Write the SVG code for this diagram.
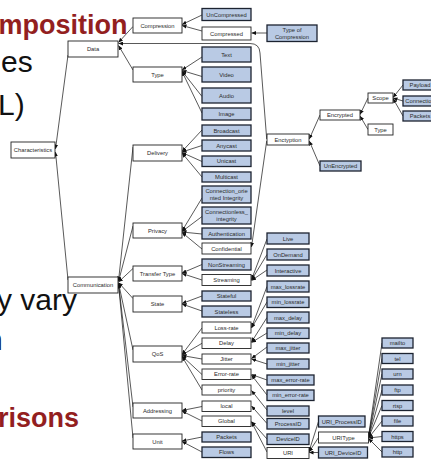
<svg xmlns="http://www.w3.org/2000/svg" width="431" height="460" viewBox="0 0 431 460">
<style>
  .bg { font-family: "Liberation Sans", Arial, sans-serif; font-size: 30px; fill: #111; }
  .hd { font-family: "Liberation Sans", Arial, sans-serif; font-size: 27px; font-weight: bold; fill: #931f1f; }
  .box { fill: #fff; stroke: #222; stroke-width: 0.9; }
  .leaf { fill: #b9cae4; stroke: #1c2330; stroke-width: 1.3; }
  .lbl { font-family: "Liberation Sans", Arial, sans-serif; font-size: 5.8px; fill: #2a2a2a; text-anchor: middle; }
  .edge path { fill: none; stroke: #111; stroke-width: 0.7; marker-end: url(#arr); }
</style>
<defs>
  <marker id="arr" markerUnits="userSpaceOnUse" markerWidth="5" markerHeight="4" refX="4.5" refY="2" orient="auto">
    <path d="M0,0 L4.5,2 L0,4 z" fill="#111"/>
  </marker>
</defs>
<rect width="431" height="460" fill="#fff"/>

<!-- slide text behind the tree -->
<g id="slide-text">
  <text class="hd" x="-1.5" y="34">mposition</text>
  <text class="bg" x="1" y="72">es</text>
  <text class="bg" x="-2" y="115">L)</text>
  <text class="bg" x="-3" y="310">y vary</text>
  <text class="bg" x="-14" y="350">n</text>
  <text class="hd" x="-2" y="427">risons</text>
</g>

<!-- connectors: child to parent, arrowhead on the parent -->
<g id="connectors" class="edge">
  <path d="M68,55 L55.5,149"/>
  <path d="M68,280 L55.5,152"/>
  <path d="M133,26.5 L118.5,42.5"/>
  <path d="M266.7,139 L260,53 Q259.5,43.5 250,43.5 L118.5,43.5"/>
  <path d="M133,70 L118.5,45.5"/>
  <path d="M202,15 L182,24.5"/>
  <path d="M202,31 L182,25.5"/>
  <path d="M267,33 L251.5,33"/>
  <path d="M202,57 L182,70"/>
  <path d="M202,76.5 L182,70.5"/>
  <path d="M202,96.5 L182,71"/>
  <path d="M202,113 L182,71.5"/>
  <path d="M202,130 L182,151.5"/>
  <path d="M202,145.5 L182,152"/>
  <path d="M202,161.5 L182,152.5"/>
  <path d="M202,177 L182,153"/>
  <path d="M202,198 L182,231"/>
  <path d="M202,216.5 L182,231.5"/>
  <path d="M202,234 L182,232"/>
  <path d="M202,249 L182,232.5"/>
  <path d="M266.7,141 L251.5,247"/>
  <path d="M202,264.5 L182,273"/>
  <path d="M202,280 L182,273.5"/>
  <path d="M202,296 L182,303.5"/>
  <path d="M202,311 L182,304"/>
  <path d="M202,328 L182,354.5"/>
  <path d="M202,343.3 L182,355"/>
  <path d="M202,359 L182,355.5"/>
  <path d="M202,374.5 L182,356"/>
  <path d="M202,390 L182,356.5"/>
  <path d="M202,406.5 L182,410.5"/>
  <path d="M202,421 L182,411"/>
  <path d="M202,437 L182,441"/>
  <path d="M202,452 L182,441.5"/>
  <path d="M133,147 L118.5,281"/>
  <path d="M133,226 L118.5,281.5"/>
  <path d="M133,268.5 L118.5,282"/>
  <path d="M133,298.5 L118.5,282.5"/>
  <path d="M133,350 L118.5,283"/>
  <path d="M133,407 L118.5,283.5"/>
  <path d="M133,438 L118.5,284"/>
  <path d="M320,115 L309.3,139"/>
  <path d="M320,166 L309.3,141"/>
  <path d="M368,98 L360,114.5"/>
  <path d="M368,129.5 L360,116"/>
  <path d="M403,85 L393,97.5"/>
  <path d="M403,101 L393,98"/>
  <path d="M403,116 L393,98.5"/>
  <path d="M267,239 L251.5,279.5"/>
  <path d="M267,254.5 L251.5,280"/>
  <path d="M267,270 L251.5,280.5"/>
  <path d="M267,286.5 L251.5,327.5"/>
  <path d="M267,302 L251.5,328"/>
  <path d="M267,317.5 L251.5,342"/>
  <path d="M267,333 L251.5,342.5"/>
  <path d="M267,347 L251.5,358.5"/>
  <path d="M267,364 L251.5,359"/>
  <path d="M267,380 L251.5,374.5"/>
  <path d="M267,395 L251.5,375"/>
  <path d="M267,410 L251.5,390.5"/>
  <path d="M267,423.5 L251.5,406"/>
  <path d="M267,439 L251.5,421.5"/>
  <path d="M267,452 L251.5,422"/>
  <path d="M318.5,421.5 L309,451.5"/>
  <path d="M318.5,437.5 L309,452"/>
  <path d="M318.5,452.5 L309,452.5"/>
  <path d="M382,343 L368.5,436.5"/>
  <path d="M382,358.5 L368.5,437"/>
  <path d="M382,374 L368.5,437"/>
  <path d="M382,390 L368.5,437.5"/>
  <path d="M382,405.5 L368.5,437.5"/>
  <path d="M382,421 L368.5,438"/>
  <path d="M382,436.5 L368.5,438"/>
  <path d="M382,452 L368.5,438.5"/>
</g>

<!-- root -->
<g id="n-characteristics"><rect class="box" x="11" y="142" width="44" height="16"/><text class="lbl" x="33" y="152">Characteristics</text></g>

<!-- second level -->
<g id="n-data"><rect class="box" x="68" y="41" width="50" height="16"/><text class="lbl" x="93" y="51">Data</text></g>
<g id="n-communication"><rect class="box" x="68" y="277" width="50" height="16"/><text class="lbl" x="93" y="287">Communication</text></g>

<!-- third level -->
<g id="n-compression"><rect class="box" x="133" y="18" width="49" height="15"/><text class="lbl" x="157.5" y="27.5">Compression</text></g>
<g id="n-type"><rect class="box" x="133" y="67" width="49" height="15"/><text class="lbl" x="157.5" y="76.5">Type</text></g>
<g id="n-delivery"><rect class="box" x="133" y="145" width="49" height="16"/><text class="lbl" x="157.5" y="155">Delivery</text></g>
<g id="n-privacy"><rect class="box" x="133" y="223" width="49" height="15"/><text class="lbl" x="157.5" y="232.5">Privacy</text></g>
<g id="n-transfer-type"><rect class="box" x="133" y="266" width="49" height="15"/><text class="lbl" x="157.5" y="275.5">Transfer Type</text></g>
<g id="n-state"><rect class="box" x="133" y="296" width="49" height="16"/><text class="lbl" x="157.5" y="306">State</text></g>
<g id="n-qos"><rect class="box" x="133" y="346" width="49" height="16"/><text class="lbl" x="157.5" y="356">QoS</text></g>
<g id="n-addressing"><rect class="box" x="133" y="403" width="49" height="15"/><text class="lbl" x="157.5" y="412.5">Addressing</text></g>
<g id="n-unit"><rect class="box" x="133" y="434" width="49" height="15"/><text class="lbl" x="157.5" y="443.5">Unit</text></g>

<!-- fourth level -->
<g id="n-uncompressed"><rect class="leaf" x="202" y="8.5" width="49" height="12"/><text class="lbl" x="226.5" y="16.5">UnCompressed</text></g>
<g id="n-compressed"><rect class="box" x="202" y="27" width="49" height="13"/><text class="lbl" x="226.5" y="35.5">Compressed</text></g>
<g id="n-text"><rect class="leaf" x="202" y="47" width="49" height="15"/><text class="lbl" x="226.5" y="56.5">Text</text></g>
<g id="n-video"><rect class="leaf" x="202" y="67" width="49" height="15"/><text class="lbl" x="226.5" y="76.5">Video</text></g>
<g id="n-audio"><rect class="leaf" x="202" y="88" width="49" height="15"/><text class="lbl" x="226.5" y="97.5">Audio</text></g>
<g id="n-image"><rect class="leaf" x="202" y="108" width="49" height="12"/><text class="lbl" x="226.5" y="116">Image</text></g>
<g id="n-broadcast"><rect class="leaf" x="202" y="125" width="49" height="11"/><text class="lbl" x="226.5" y="132.5">Broadcast</text></g>
<g id="n-anycast"><rect class="leaf" x="202" y="140" width="49" height="11"/><text class="lbl" x="226.5" y="147.5">Anycast</text></g>
<g id="n-unicast"><rect class="leaf" x="202" y="156" width="49" height="10.5"/><text class="lbl" x="226.5" y="163.3">Unicast</text></g>
<g id="n-multicast"><rect class="leaf" x="202" y="172" width="49" height="10"/><text class="lbl" x="226.5" y="179">Multicast</text></g>
<g id="n-conn-oriented"><rect class="leaf" x="202" y="186" width="49" height="17"/><text class="lbl" x="226.5" y="193">Connection_orie</text><text class="lbl" x="226.5" y="200">nted Integrity</text></g>
<g id="n-connectionless"><rect class="leaf" x="202" y="207" width="49" height="17"/><text class="lbl" x="226.5" y="214">Connectionless_</text><text class="lbl" x="226.5" y="221">integrity</text></g>
<g id="n-authentication"><rect class="leaf" x="202" y="228" width="49" height="11"/><text class="lbl" x="226.5" y="235.5">Authentication</text></g>
<g id="n-confidential"><rect class="box" x="202" y="243" width="49" height="11"/><text class="lbl" x="226.5" y="250.5">Confidential</text></g>
<g id="n-nonstreaming"><rect class="leaf" x="202" y="259" width="49" height="11"/><text class="lbl" x="226.5" y="266.5">NonStreaming</text></g>
<g id="n-streaming"><rect class="box" x="202" y="274.5" width="49" height="11"/><text class="lbl" x="226.5" y="282">Streaming</text></g>
<g id="n-stateful"><rect class="leaf" x="202" y="291" width="49" height="10"/><text class="lbl" x="226.5" y="298">Stateful</text></g>
<g id="n-stateless"><rect class="leaf" x="202" y="306" width="49" height="11"/><text class="lbl" x="226.5" y="313.5">Stateless</text></g>
<g id="n-loss-rate"><rect class="box" x="202" y="322" width="49" height="11"/><text class="lbl" x="226.5" y="329.5">Loss-rate</text></g>
<g id="n-delay"><rect class="box" x="202" y="338" width="49" height="10.5"/><text class="lbl" x="226.5" y="345.3">Delay</text></g>
<g id="n-jitter"><rect class="box" x="202" y="354" width="49" height="10"/><text class="lbl" x="226.5" y="361">Jitter</text></g>
<g id="n-error-rate"><rect class="box" x="202" y="369" width="49" height="10.5"/><text class="lbl" x="226.5" y="376.3">Error-rate</text></g>
<g id="n-priority"><rect class="box" x="202" y="385" width="49" height="10"/><text class="lbl" x="226.5" y="392">priority</text></g>
<g id="n-local"><rect class="box" x="202" y="401" width="49" height="10.5"/><text class="lbl" x="226.5" y="408.3">local</text></g>
<g id="n-global"><rect class="box" x="202" y="416" width="49" height="10.5"/><text class="lbl" x="226.5" y="423.3">Global</text></g>
<g id="n-packets"><rect class="leaf" x="202" y="432" width="49" height="10"/><text class="lbl" x="226.5" y="439">Packets</text></g>
<g id="n-flows"><rect class="leaf" x="202" y="447" width="49" height="10.5"/><text class="lbl" x="226.5" y="454.3">Flows</text></g>

<!-- fifth level -->
<g id="n-type-of-compression"><rect class="leaf" x="267" y="25" width="50" height="16.5"/><text class="lbl" x="292" y="31.5">Type of</text><text class="lbl" x="292" y="38.5">Compression</text></g>
<g id="n-enctyption"><rect class="box" x="267" y="134" width="42" height="11"/><text class="lbl" x="288" y="141.5">Enctyption</text></g>
<g id="n-live"><rect class="leaf" x="267" y="233" width="42" height="11"/><text class="lbl" x="288" y="240.5">Live</text></g>
<g id="n-ondemand"><rect class="leaf" x="267" y="249" width="42" height="11"/><text class="lbl" x="288" y="256.5">OnDemand</text></g>
<g id="n-interactive"><rect class="leaf" x="267" y="265" width="42" height="11"/><text class="lbl" x="288" y="272.5">Interactive</text></g>
<g id="n-max-lossrate"><rect class="leaf" x="267" y="281" width="42" height="11"/><text class="lbl" x="288" y="288.5">max_lossrate</text></g>
<g id="n-min-lossrate"><rect class="leaf" x="267" y="297" width="42" height="10.5"/><text class="lbl" x="288" y="304.3">min_lossrate</text></g>
<g id="n-max-delay"><rect class="leaf" x="267" y="312" width="42" height="11"/><text class="lbl" x="288" y="319.5">max_delay</text></g>
<g id="n-min-delay"><rect class="leaf" x="267" y="328" width="42" height="10.5"/><text class="lbl" x="288" y="335.3">min_delay</text></g>
<g id="n-max-jitter"><rect class="leaf" x="267" y="343" width="42" height="10"/><text class="lbl" x="288" y="350">max_jitter</text></g>
<g id="n-min-jitter"><rect class="leaf" x="267" y="359" width="42" height="10"/><text class="lbl" x="288" y="366">min_jitter</text></g>
<g id="n-max-error-rate"><rect class="leaf" x="267" y="375" width="47" height="10"/><text class="lbl" x="290.5" y="382">max_error-rate</text></g>
<g id="n-min-error-rate"><rect class="leaf" x="267" y="390" width="47" height="10.5"/><text class="lbl" x="290.5" y="397.3">min_error-rate</text></g>
<g id="n-level"><rect class="leaf" x="267" y="406" width="42" height="10"/><text class="lbl" x="288" y="413">level</text></g>
<g id="n-processid"><rect class="leaf" x="267" y="418.5" width="42" height="10.5"/><text class="lbl" x="288" y="425.8">ProcessID</text></g>
<g id="n-deviceid"><rect class="leaf" x="267" y="434" width="42" height="10.5"/><text class="lbl" x="288" y="441.3">DeviceID</text></g>
<g id="n-uri"><rect class="box" x="267" y="447.5" width="42" height="11"/><text class="lbl" x="288" y="455">URI</text></g>

<!-- encryption branch -->
<g id="n-encrypted"><rect class="box" x="320" y="110" width="40" height="10"/><text class="lbl" x="340" y="117">Encrypted</text></g>
<g id="n-unencrypted"><rect class="leaf" x="320" y="161" width="41" height="10"/><text class="lbl" x="340.5" y="168">UnEncrypted</text></g>
<g id="n-scope"><rect class="box" x="368" y="93" width="25" height="10"/><text class="lbl" x="380.5" y="100">Scope</text></g>
<g id="n-enc-type"><rect class="box" x="368" y="124" width="25" height="11"/><text class="lbl" x="380.5" y="131.5">Type</text></g>
<g id="n-payload"><rect class="leaf" x="403" y="80" width="34" height="10"/><text class="lbl" x="420" y="87">Payload</text></g>
<g id="n-connection"><rect class="leaf" x="403" y="96" width="34" height="10"/><text class="lbl" x="420" y="103">Connection</text></g>
<g id="n-packet"><rect class="leaf" x="403" y="111" width="34" height="10"/><text class="lbl" x="420" y="118">Packets</text></g>

<!-- URI branch -->
<g id="n-uri-processid"><rect class="leaf" x="318.5" y="416" width="46.5" height="11"/><text class="lbl" x="341.75" y="423.5">URI_ProcessID</text></g>
<g id="n-uritype"><rect class="box" x="318.5" y="432" width="50" height="11"/><text class="lbl" x="343.5" y="439.5">URIType</text></g>
<g id="n-uri-deviceid"><rect class="leaf" x="318.5" y="447" width="49" height="11"/><text class="lbl" x="343" y="454.5">URI_DeviceID</text></g>
<g id="n-mailto"><rect class="leaf" x="382" y="338" width="31" height="10"/><text class="lbl" x="397.5" y="345">mailto</text></g>
<g id="n-tel"><rect class="leaf" x="382" y="353.5" width="31" height="10"/><text class="lbl" x="397.5" y="360.5">tel</text></g>
<g id="n-urn"><rect class="leaf" x="382" y="369" width="31" height="10"/><text class="lbl" x="397.5" y="376">urn</text></g>
<g id="n-ftp"><rect class="leaf" x="382" y="385" width="31" height="10"/><text class="lbl" x="397.5" y="392">ftp</text></g>
<g id="n-rtsp"><rect class="leaf" x="382" y="400.5" width="31" height="10"/><text class="lbl" x="397.5" y="407.5">rtsp</text></g>
<g id="n-file"><rect class="leaf" x="382" y="416" width="31" height="10"/><text class="lbl" x="397.5" y="423">file</text></g>
<g id="n-https"><rect class="leaf" x="382" y="431.5" width="31" height="10"/><text class="lbl" x="397.5" y="438.5">https</text></g>
<g id="n-http"><rect class="leaf" x="382" y="447" width="31" height="10"/><text class="lbl" x="397.5" y="454">http</text></g>
</svg>
